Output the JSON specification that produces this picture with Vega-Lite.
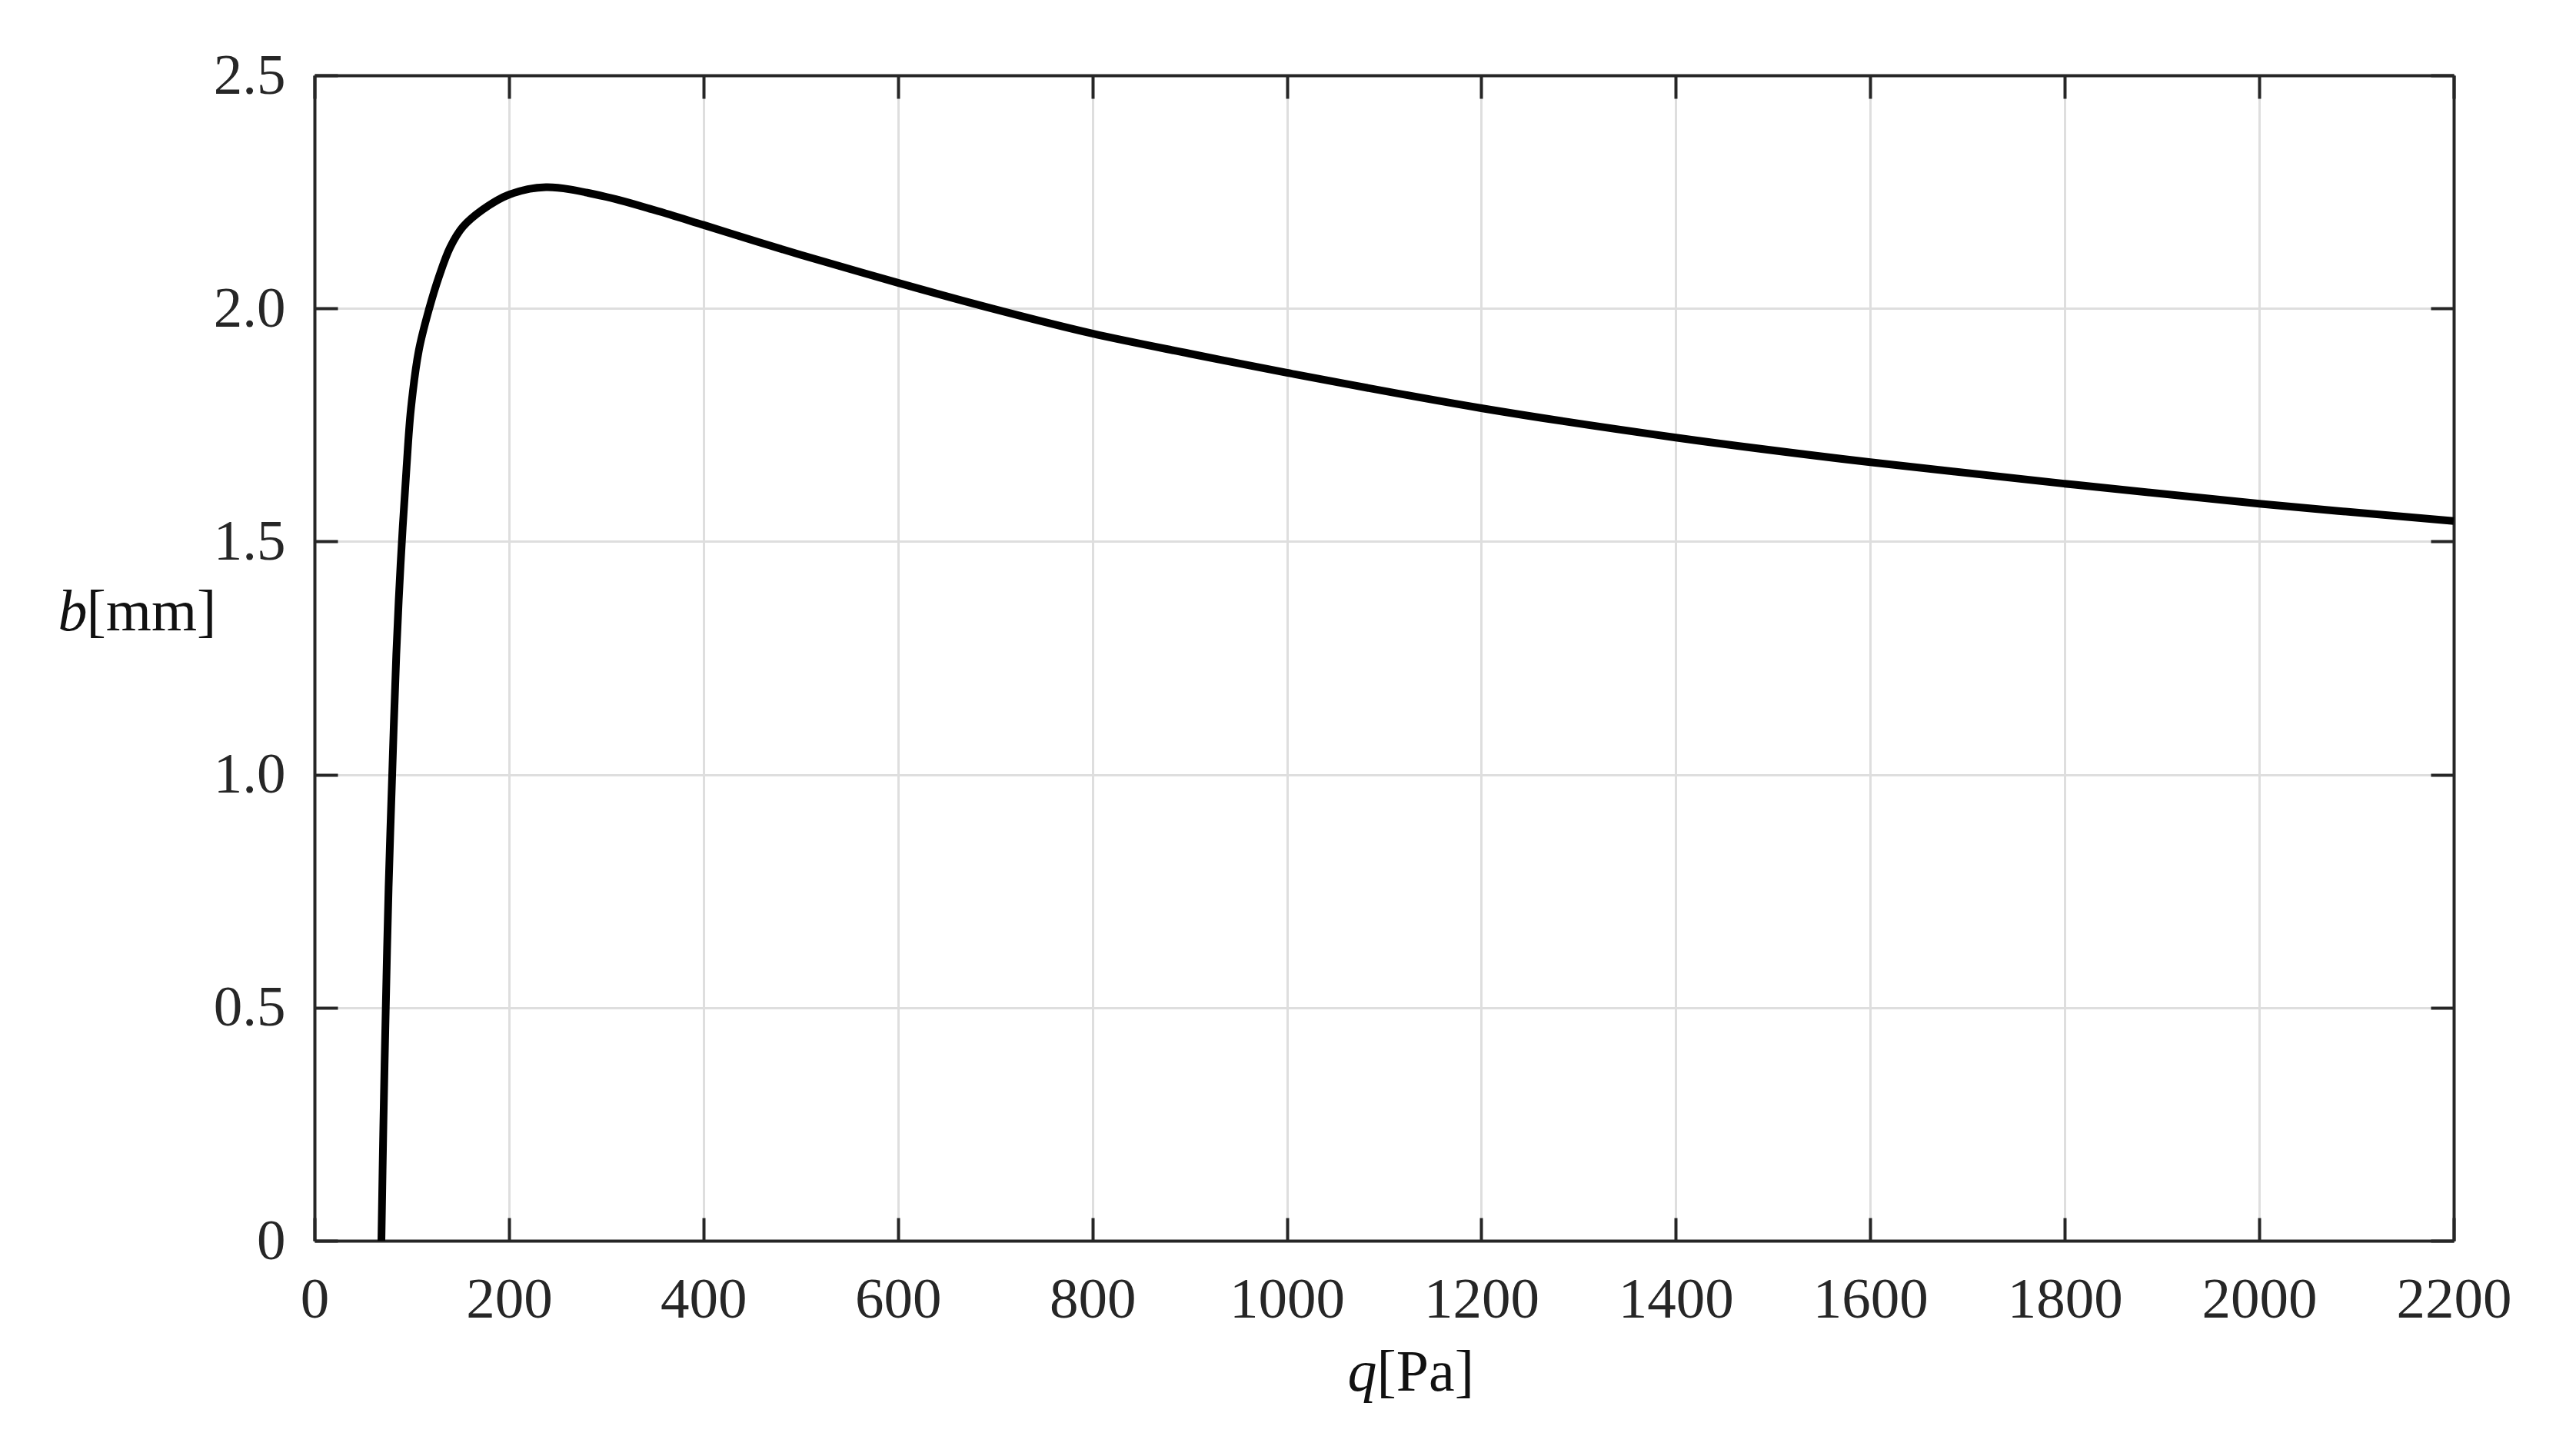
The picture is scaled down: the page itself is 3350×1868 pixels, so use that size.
{
  "$schema": "https://vega.github.io/schema/vega-lite/v6.json",
  "width": 2782,
  "height": 1516,
  "autosize": {"type": "none"},
  "padding": {"left": 409, "top": 98, "right": 159, "bottom": 254},
  "background": "white",
  "config": {
    "view": {"stroke": null},
    "font": "Liberation Serif",
    "axis": {
      "domainColor": "#262626",
      "domainWidth": 4,
      "tickColor": "#262626",
      "tickWidth": 4,
      "tickSize": -30,
      "labelColor": "#262626",
      "labelFont": "Liberation Serif",
      "labelFontSize": 75,
      "titleFont": "Liberation Serif",
      "titleFontSize": 76,
      "titleFontWeight": "normal",
      "titleColor": "#111111",
      "gridColor": "#dedede",
      "gridWidth": 3,
      "gridOpacity": 1
    }
  },
  "data": {
    "values": [
      {"q": 68.8, "b": 0},
      {"q": 70.9, "b": 0.256},
      {"q": 73.3, "b": 0.5},
      {"q": 76.2, "b": 0.757},
      {"q": 79.9, "b": 1.0},
      {"q": 84.1, "b": 1.257},
      {"q": 88.5, "b": 1.45},
      {"q": 94.6, "b": 1.657},
      {"q": 99.1, "b": 1.783},
      {"q": 107.3, "b": 1.91},
      {"q": 118, "b": 2.0},
      {"q": 127.8, "b": 2.067},
      {"q": 139.5, "b": 2.131},
      {"q": 152.6, "b": 2.175},
      {"q": 173, "b": 2.212},
      {"q": 200, "b": 2.244},
      {"q": 238, "b": 2.26},
      {"q": 296.6, "b": 2.241},
      {"q": 349.6, "b": 2.211},
      {"q": 400, "b": 2.179},
      {"q": 455.6, "b": 2.143},
      {"q": 500, "b": 2.115},
      {"q": 600, "b": 2.055},
      {"q": 700, "b": 1.998},
      {"q": 800, "b": 1.946},
      {"q": 900, "b": 1.903},
      {"q": 1000, "b": 1.862},
      {"q": 1200, "b": 1.786},
      {"q": 1400, "b": 1.723},
      {"q": 1600, "b": 1.67},
      {"q": 1800, "b": 1.624},
      {"q": 2000, "b": 1.581},
      {"q": 2200, "b": 1.544}
    ]
  },
  "layer": [
    {
      "mark": {"type": "line", "strokeOpacity": 0},
      "encoding": {
        "x": {
          "field": "q", "type": "quantitative",
          "scale": {"domain": [0, 2200], "nice": false},
          "axis": {
            "orient": "top", "values": [0, 200, 400, 600, 800, 1000, 1200, 1400, 1600, 1800, 2000, 2200],
            "labels": false, "grid": false,
            "title": "[Pa]", "titleAngle": 0, "titleAlign": "left", "titleBaseline": "alphabetic",
            "titleAnchor": null, "titleX": 1381, "titleY": 1710
          }
        },
        "y": {
          "field": "b", "type": "quantitative",
          "scale": {"domain": [0, 2.5], "nice": false},
          "axis": {
            "orient": "right", "values": [0, 0.5, 1, 1.5, 2, 2.5],
            "labels": false, "grid": false,
            "title": "[mm]", "titleAngle": 0, "titleAlign": "left", "titleBaseline": "alphabetic",
            "titleAnchor": null, "titleX": -3079, "titleY": 721
          }
        }
      }
    },
    {
      "mark": {"type": "line", "color": "#000000", "strokeWidth": 10, "interpolate": "catmull-rom"},
      "encoding": {
        "x": {
          "field": "q", "type": "quantitative",
          "scale": {"domain": [0, 2200], "nice": false},
          "axis": {
            "orient": "bottom", "values": [0, 200, 400, 600, 800, 1000, 1200, 1400, 1600, 1800, 2000, 2200],
            "grid": true, "labelPadding": 70, "labelFlush": false,
            "labelExpr": "format(datum.value, 'd')",
            "title": "q", "titleFontStyle": "italic", "titleAngle": 0, "titleAlign": "left", "titleBaseline": "alphabetic",
            "titleAnchor": null, "titleX": 1343, "titleY": 194
          }
        },
        "y": {
          "field": "b", "type": "quantitative",
          "scale": {"domain": [0, 2.5], "nice": false},
          "axis": {
            "orient": "left", "values": [0, 0.5, 1, 1.5, 2, 2.5],
            "grid": true, "labelPadding": 68, "labelFlush": false,
            "labelExpr": "datum.value == 0 ? '0' : format(datum.value, '.1f')",
            "title": "b", "titleFontStyle": "italic", "titleAngle": 0, "titleAlign": "left", "titleBaseline": "alphabetic",
            "titleAnchor": null, "titleX": -334, "titleY": 721
          }
        }
      }
    }
  ],
  "resolve": {"axis": {"x": "independent", "y": "independent"}}
}
